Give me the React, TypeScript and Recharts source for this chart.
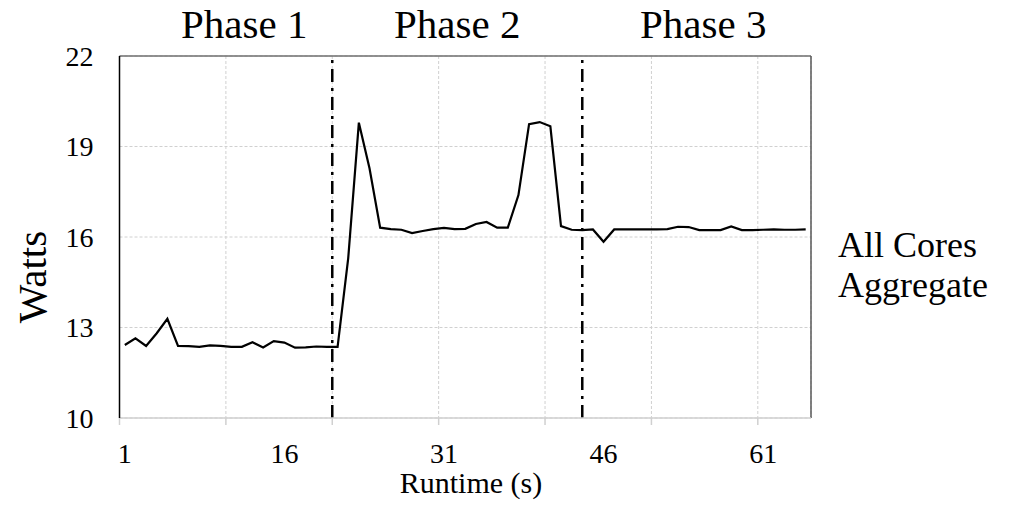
import React from 'react';
import { LineChart, Line, XAxis, YAxis, CartesianGrid, ReferenceLine } from 'recharts';

const runtime = [
  1, 2, 3, 4, 5, 6, 7, 8, 9, 10, 11, 12, 13, 14, 15, 16, 17, 18, 19, 20,
  21, 22, 23, 24, 25, 26, 27, 28, 29, 30, 31, 32, 33, 34, 35, 36, 37, 38, 39, 40,
  41, 42, 43, 44, 45, 46, 47, 48, 49, 50, 51, 52, 53, 54, 55, 56, 57, 58, 59, 60,
  61, 62, 63, 64, 65,
];

const watts = [
  12.42, 12.64, 12.39, 12.81, 13.29, 12.39, 12.38, 12.36, 12.41, 12.39,
  12.36, 12.36, 12.51, 12.34, 12.55, 12.5, 12.33, 12.34, 12.37, 12.36,
  12.36, 15.3, 19.79, 18.28, 16.31, 16.26, 16.24, 16.13, 16.2, 16.26,
  16.3, 16.26, 16.27, 16.43, 16.5, 16.31, 16.31, 17.39, 19.74, 19.81,
  19.67, 16.36, 16.24, 16.23, 16.25, 15.84, 16.25, 16.25, 16.25, 16.25,
  16.25, 16.26, 16.34, 16.33, 16.23, 16.23, 16.23, 16.35, 16.23, 16.23,
  16.24, 16.25, 16.24, 16.24, 16.25,
];

const xLabelTicks = [1, 16, 31, 46, 61];
const xMarkTicks = [0.5, 10.5, 20.5, 30.5, 40.5, 50.5, 60.5];
const yTicks = [10, 13, 16, 19, 22];
const phaseBoundaries = [20.5, 44];
const phaseTitles = ['Phase 1', 'Phase 2', 'Phase 3'];
const seriesName = ['All Cores', 'Aggregate'];

const data = runtime.map((t, i) => ({ t, w: watts[i] }));
const allXTicks = [...xMarkTicks, ...xLabelTicks].sort((a, b) => a - b);

const FONT = '"Liberation Serif", "Times New Roman", serif';

function XTick(props: any) {
  const { x, y, payload } = props;
  const v = payload.value;
  if (xMarkTicks.includes(v)) {
    return <line x1={x} x2={x} y1={y} y2={y + 7} stroke="#d0d0d0" strokeWidth={1.5} />;
  }
  return (
    <text x={x} y={y + 45} textAnchor="middle" fontSize={28} fontFamily={FONT} fill="#000">
      {v}
    </text>
  );
}

export default function App() {
  return (
    <div style={{ position: 'absolute', left: 0, top: 0, width: 1011, height: 508, background: '#fff' }}>
      <LineChart
        width={1011}
        height={508}
        data={data}
        margin={{ top: 56, right: 200, bottom: 0, left: 0 }}
      >
        <CartesianGrid xAxisId="marks" stroke="#d0d0d0" strokeDasharray="3 2" />
        <XAxis
          xAxisId="marks"
          dataKey="t"
          type="number"
          domain={[0.5, 65.5]}
          ticks={xMarkTicks}
          interval={0}
          hide
        />
        <XAxis
          dataKey="t"
          type="number"
          domain={[0.5, 65.5]}
          ticks={allXTicks}
          interval={0}
          tickLine={false}
          tickSize={0}
          tickMargin={0}
          axisLine={{ stroke: '#d0d0d0', strokeWidth: 1.5 }}
          tick={<XTick />}
          height={90}
        />
        <YAxis
          type="number"
          domain={[10, 22]}
          ticks={yTicks}
          interval={0}
          tickLine={false}
          tickSize={0}
          tickMargin={26}
          axisLine={{ stroke: '#000', strokeWidth: 1.5 }}
          tick={{ fontSize: 28, fill: '#000', fontFamily: FONT }}
          width={119.5}
        />
        <ReferenceLine y={22} stroke="#6f6f6f" strokeWidth={1.5} />
        <ReferenceLine x={65.5} stroke="#595959" strokeWidth={1.5} />
        {phaseBoundaries.map((b) => (
          <ReferenceLine
            key={b}
            x={b}
            stroke="#000"
            strokeWidth={2.5}
            strokeDasharray="13 6 3 6"
          />
        ))}
        <Line
          dataKey="w"
          type="linear"
          stroke="#000"
          strokeWidth={2.2}
          dot={false}
          activeDot={false}
          isAnimationActive={false}
        />
        <text x={181} y={38} fontSize={41} fontFamily={FONT} fill="#000">{phaseTitles[0]}</text>
        <text x={394} y={38} fontSize={41} fontFamily={FONT} fill="#000">{phaseTitles[1]}</text>
        <text x={640} y={38} fontSize={41} fontFamily={FONT} fill="#000">{phaseTitles[2]}</text>
        <text x={838} y={257} fontSize={36} fontFamily={FONT} fill="#000">{seriesName[0]}</text>
        <text x={838} y={297} fontSize={36} fontFamily={FONT} fill="#000">{seriesName[1]}</text>
        <text
          x={0}
          y={0}
          fontSize={41}
          fontFamily={FONT}
          fill="#000"
          textAnchor="middle"
          transform="translate(46 277) rotate(-90)"
        >
          Watts
        </text>
        <text x={471} y={493} fontSize={30} fontFamily={FONT} fill="#000" textAnchor="middle">
          Runtime (s)
        </text>
      </LineChart>
    </div>
  );
}
